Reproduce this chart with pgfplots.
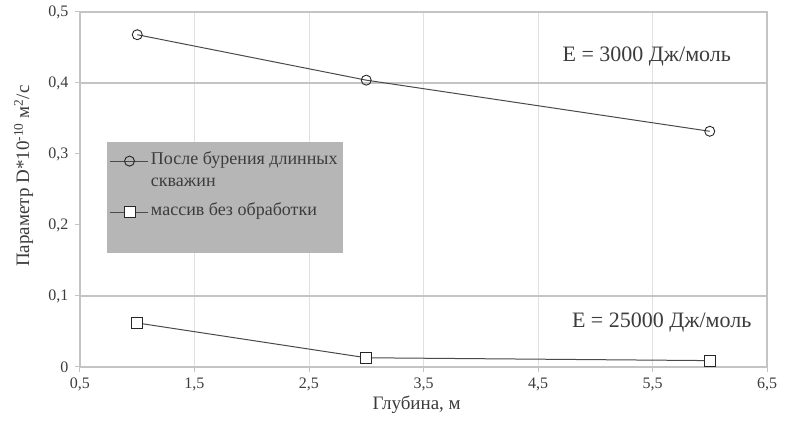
\documentclass[border=0pt]{standalone}
\usepackage{fontspec}
\setmainfont{Liberation Serif}
\usepackage{pgfplots}
\pgfplotsset{compat=1.18}
\definecolor{txt}{HTML}{3C3C3C}
\definecolor{ln}{HTML}{4A4A4A}
\definecolor{grd}{HTML}{C4C4C4}
\definecolor{lg}{HTML}{B6B6B6}
\begin{document}
\begin{tikzpicture}
\path[use as bounding box] (-80pt,-66pt) rectangle (710pt,367pt);
\begin{axis}[
  at={(0pt,0pt)}, anchor=south west,
  scale only axis, width=687pt, height=355pt,
  xmin=0.5, xmax=6.5, ymin=0, ymax=0.5,
  xtick={0.5,1.5,2.5,3.5,4.5,5.5,6.5},
  xticklabels={{0,5},{1,5},{2,5},{3,5},{4,5},{5,5},{6,5}},
  ytick={0,0.1,0.2,0.3,0.4,0.5},
  yticklabels={0,{0,1},{0,2},{0,3},{0,4},{0,5}},
  xtick pos=left, ytick pos=left,
  tick align=outside, major tick length=5pt,
  tick style={grd, line width=1pt},
  axis line style={grd, line width=1.6pt},
  xmajorgrids, major grid style={color=black!12, line width=0.7pt},
  tick label style={text=txt, font=\fontsize{16}{18}\selectfont},
  xticklabel style={yshift=-2pt},
  yticklabel style={xshift=-3pt},
  label style={text=txt, font=\fontsize{19}{21}\selectfont},
  xlabel={Глубина, м},
  ylabel={Параметр D*10\textsuperscript{-10} м\textsuperscript{2}/с},
  xlabel style={at={(axis description cs:0.49,-0.107)}, anchor=center},
  ylabel style={at={(axis description cs:-0.082,0.538)}, anchor=center},
  legend style={at={(0.039,0.634)}, anchor=north west, fill=lg, draw=none,
    text=txt, font=\fontsize{18}{20}\selectfont, inner xsep=3pt, inner ysep=6pt,
    row sep=6pt, nodes={text depth=}, cells={anchor=base west}},
  legend image code/.code={%
    \draw[mark repeat=2, mark phase=2, yshift=0.3em, #1] plot coordinates {(0pt,0pt) (19pt,0pt) (38pt,0pt)};},
  every axis plot/.append style={ln, line width=1pt},
]
\draw[grd, line width=2.4pt] (axis cs:0.5,0.1) -- (axis cs:6.5,0.1);
\draw[grd, line width=2.4pt] (axis cs:0.5,0.4) -- (axis cs:6.5,0.4);
\draw[grd, line width=1.6pt] (axis cs:0.5,0.5) -- (axis cs:6.5,0.5) -- (axis cs:6.5,0);
\addplot[ln, line width=1pt, mark=o, mark size=5pt, mark options={fill=white, draw=black!85, line width=0.9pt}]
  coordinates {(1,0.468) (3,0.404) (6,0.332)};
\addlegendentry{\begin{tabular}[t]{@{}l@{}}После бурения длинных\\[2pt]скважин\end{tabular}}
\addplot[ln, line width=1pt, mark=square*, mark size=5.5pt, mark options={fill=white, draw=black!85, line width=0.9pt}]
  coordinates {(1,0.062) (3,0.013) (6,0.009)};
\addlegendentry{массив без обработки\rule[-30pt]{0pt}{0pt}}
\node[text=txt, font=\fontsize{22}{24}\selectfont] at (axis cs:5.45,0.437) {E = 3000 Дж/моль};
\node[text=txt, font=\fontsize{22}{24}\selectfont] at (axis cs:5.58,0.062) {E = 25000 Дж/моль};
\end{axis}
\end{tikzpicture}
\end{document}
